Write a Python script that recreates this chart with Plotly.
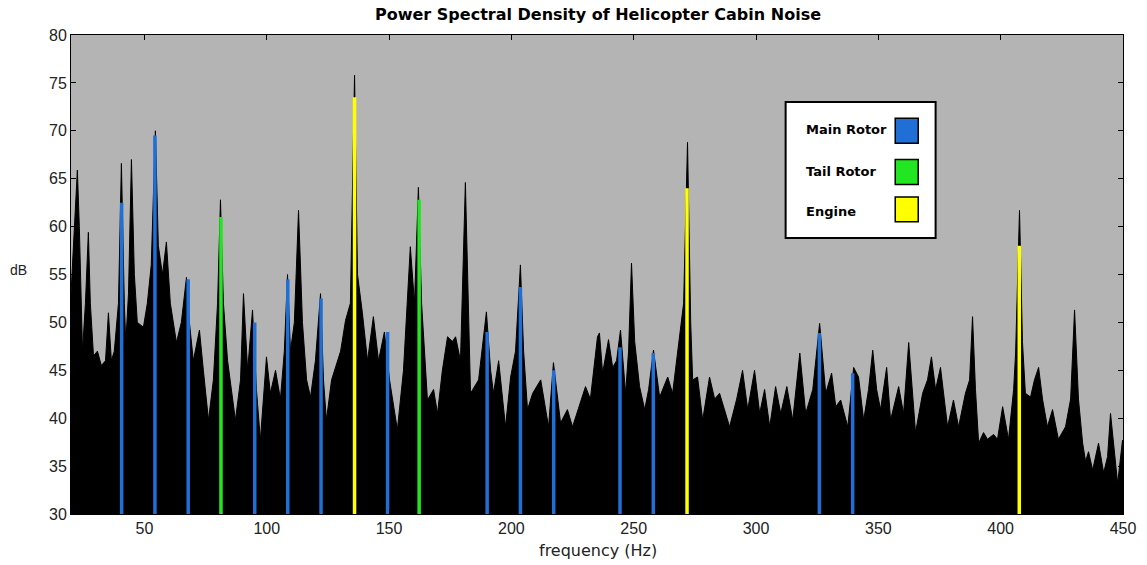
import plotly.graph_objects as go

# ---------------- data ----------------
freq_hz = [20.0, 22.6, 23.4, 24.7, 25.9, 27.1, 27.9, 29.2, 30.8, 32.4, 34.1, 35.3, 36.5, 37.7, 39.4,
           40.6, 41.8, 42.4, 43.5, 44.7, 45.9, 47.1, 49.6, 51.2, 52.8, 54.5, 55.7, 57.4, 59.0, 60.6,
           63.1, 65.1, 67.2, 68.4, 70.0, 72.5, 74.1, 76.2, 78.2, 79.9, 81.1, 82.3, 84.0, 87.2, 89.3,
           90.5, 92.2, 94.2, 95.8, 97.4, 99.9, 101.5, 103.6, 105.6, 107.2, 108.5, 109.7, 111.3, 113.0,
           114.6, 116.3, 117.9, 119.9, 122.0, 123.2, 124.4, 126.5, 128.1, 130.2, 132.2, 134.2, 135.9,
           137.1, 139.1, 141.2, 143.6, 145.7, 148.1, 150.2, 153.4, 155.9, 158.7, 160.4, 162.0, 163.3,
           165.7, 168.2, 169.8, 171.8, 173.9, 175.9, 177.2, 179.2, 181.2, 182.5, 183.3, 186.6, 189.8,
           191.5, 192.7, 194.8, 197.6, 199.7, 201.7, 203.7, 205.0, 206.6, 208.7, 212.0, 215.2, 217.2,
           220.1, 222.9, 225.0, 227.4, 230.3, 232.3, 235.2, 236.0, 237.3, 239.7, 241.4, 243.0, 244.6,
           246.7, 247.9, 249.1, 250.4, 252.4, 254.5, 256.1, 258.1, 260.6, 263.9, 265.9, 268.8, 270.4,
           272.0, 273.3, 274.1, 276.1, 278.2, 281.0, 283.1, 285.1, 289.2, 292.1, 294.5, 296.6, 299.4,
           301.5, 303.5, 305.6, 308.0, 310.1, 312.6, 315.0, 317.9, 320.3, 323.2, 326.0, 328.5, 330.9,
           332.6, 334.6, 337.5, 339.9, 341.9, 344.0, 346.0, 347.7, 349.3, 350.9, 353.4, 355.0, 358.3,
           360.3, 362.4, 364.0, 365.2, 368.1, 370.1, 371.7, 373.4, 375.4, 378.3, 380.7, 382.8, 385.6,
           387.3, 388.5, 389.7, 391.0, 393.0, 394.6, 397.1, 398.7, 400.8, 403.2, 405.3, 406.1, 407.7,
           408.9, 410.1, 412.2, 413.8, 415.5, 417.1, 419.1, 421.2, 423.6, 426.5, 428.6, 430.2, 431.8,
           433.5, 434.7, 435.9, 437.6, 440.0, 442.1, 443.7, 444.9, 446.6, 447.8, 449.8, 450.0]
psd_db = [53.0, 65.9, 60.0, 47.0, 52.0, 59.4, 52.0, 46.5, 47.0, 45.5, 46.0, 51.0, 46.0, 47.0, 52.0,
          66.6, 52.0, 47.9, 53.0, 67.0, 55.0, 50.0, 49.5, 52.0, 56.0, 70.0, 58.0, 55.0, 58.4, 52.0,
          47.9, 50.0, 54.7, 50.0, 46.0, 49.2, 45.0, 39.8, 44.0, 52.0, 62.8, 52.0, 46.0, 39.8, 44.0,
          53.0, 45.0, 51.3, 43.0, 37.7, 46.4, 42.6, 45.0, 42.0, 47.0, 55.0, 47.0, 50.0, 61.7,
          50.0, 44.0, 42.2, 46.0, 53.0, 44.0, 39.8, 44.0, 45.3, 47.0, 50.2, 52.0, 75.8,
          55.0, 51.0, 46.0, 50.6, 46.0, 49.0, 44.0, 38.8, 45.0, 57.9, 52.0, 64.1, 52.0,
          41.9, 43.0, 40.5, 45.0, 48.5, 48.0, 48.5, 46.0, 64.6, 50.0, 42.6, 44.0, 51.1,
          45.0, 42.6, 46.0, 39.1, 44.3, 47.0, 56.0, 47.0, 40.9, 42.6, 44.0, 39.1, 45.8,
          39.5, 40.9, 39.1, 41.0, 43.3, 42.0, 48.5, 48.9, 44.7, 48.2, 45.3, 46.0, 49.2,
          42.6, 47.0, 56.2, 48.0, 43.3, 40.9, 43.0, 47.1, 42.2, 44.3, 42.6, 48.5, 52.0,
          68.8, 50.0, 44.0, 44.3, 39.8, 44.3, 42.0, 42.6, 39.1, 42.0, 45.0, 40.9, 45.0,
          40.5, 43.0, 39.1, 43.3, 40.5, 43.3, 39.8, 46.8, 40.5, 43.0, 49.9, 42.6, 44.7,
          41.2, 41.9, 39.1, 45.3, 44.3, 39.8, 43.0, 47.1, 43.0, 40.9, 45.3, 39.8, 43.3,
          40.5, 47.9, 42.0, 38.5, 42.6, 44.0, 46.4, 43.0, 45.3, 39.1, 41.9, 39.1, 42.6,
          44.0, 50.6, 43.0, 37.4, 38.5, 37.8, 38.3, 37.8, 41.2, 37.8, 43.0, 46.8, 61.7,
          48.0, 42.6, 42.2, 44.0, 45.3, 42.0, 39.1, 40.9, 37.8, 39.1, 42.0, 51.3, 42.0,
          37.4, 35.5, 36.5, 34.6, 37.4, 34.3, 36.0, 40.5, 36.0, 33.2, 37.7, 36.0]

main_rotor_hz = [40.7, 54.3, 67.9, 95.1, 108.6, 122.2, 149.4, 190.1, 203.7, 217.3, 244.4, 258.0, 325.9, 339.5]
main_rotor_db = [62.5, 69.5, 54.5, 50.0, 54.5, 52.5, 49.0, 49.0, 53.7, 45.0, 47.4, 46.8, 48.9, 44.7]
tail_rotor_hz = [81.3, 162.3]
tail_rotor_db = [61.0, 62.8]
engine_hz = [135.9, 271.8, 407.6]
engine_db = [73.5, 64.0, 58.0]

legend_labels = ["Main Rotor", "Tail Rotor", "Engine"]
x_ticks = [50, 100, 150, 200, 250, 300, 350, 400, 450]
y_ticks = [30, 35, 40, 45, 50, 55, 60, 65, 70, 75, 80]

# ---------------- styles ----------------
BLUE = "#1f6fd6"
GREEN = "#22e622"
YELLOW = "#ffff00"
colors = [BLUE, GREEN, YELLOW]
Y0 = 30
FONT = "Liberation Sans, Arial"
WIDE = "DejaVu Sans, Verdana"

fig = go.Figure()

fig.add_trace(go.Scatter(
    x=freq_hz, y=psd_db, mode="lines", fill="tozeroy",
    line=dict(color="black", width=1), fillcolor="black",
    hoverinfo="skip", showlegend=False))


def stems(xs, ys):
    sx, sy = [], []
    for f, v in zip(xs, ys):
        sx += [f, f, None]
        sy += [Y0, v, None]
    return sx, sy


for (xs, ys), col in zip([(main_rotor_hz, main_rotor_db),
                          (tail_rotor_hz, tail_rotor_db),
                          (engine_hz, engine_db)], colors):
    sx, sy = stems(xs, ys)
    fig.add_trace(go.Scatter(x=sx, y=sy, mode="lines",
                             line=dict(color=col, width=3.5),
                             hoverinfo="skip", showlegend=False))

# ---------------- custom legend box ----------------
shapes = [dict(type="rect", xref="x", yref="y", x0=312.1, x1=373.4, y0=58.8, y1=73.0,
               fillcolor="white", line=dict(color="black", width=2), layer="above")]
sq_y = [(68.7, 71.3), (64.4, 67.0), (60.5, 63.1)]
txt_y = [70.1, 65.7, 61.6]
annotations = []
for lab, col, (ya, yb), ty in zip(legend_labels, colors, sq_y, txt_y):
    shapes.append(dict(type="rect", xref="x", yref="y", x0=356.9, x1=366.3, y0=ya, y1=yb,
                       fillcolor=col, line=dict(color="black", width=1.5), layer="above"))
    annotations.append(dict(x=319.8, y=ty, xref="x", yref="y", text="<b>" + lab + "</b>",
                            showarrow=False, xanchor="left", yanchor="middle",
                            font=dict(family=WIDE, size=13, color="black")))

# page-pixel placed texts, converted to paper coordinates below
W, H = 1147, 565
ML, MR, MT, MB = 71, 24, 35, 51
pw, ph = W - ML - MR, H - MT - MB


def px_to_paper(px, py):
    return (px - ML) / pw, (H - MB - py) / ph


for txt, (px, py), size, fam in [("dB", (18, 270), 14, FONT),
                                 ("frequency (Hz)", (598, 550), 16, WIDE),
                                 ("<b>Power Spectral Density of Helicopter Cabin Noise</b>", (598, 15), 16, WIDE)]:
    ax, ay = px_to_paper(px, py)
    annotations.append(dict(x=ax, y=ay, xref="paper", yref="paper", text=txt, showarrow=False,
                            xanchor="center", yanchor="middle",
                            font=dict(family=fam, size=size, color="black" if "<b>" in txt else "#222")))

fig.update_layout(
    width=W, height=H,
    margin=dict(l=ML, r=MR, t=MT, b=MB),
    paper_bgcolor="white", plot_bgcolor="#b4b4b4",
    shapes=shapes, annotations=annotations,
    showlegend=False,
)
axis_common = dict(showline=True, linecolor="black", linewidth=1, mirror="allticks",
                   ticks="inside", ticklen=5, tickcolor="black", showgrid=False, zeroline=False,
                   tickfont=dict(family=FONT, size=16, color="#222"))
fig.update_xaxes(range=[20, 450], tickvals=x_ticks, **axis_common)
fig.update_yaxes(range=[30, 80], tickvals=y_ticks, **axis_common)

fig.write_html("out.html")
